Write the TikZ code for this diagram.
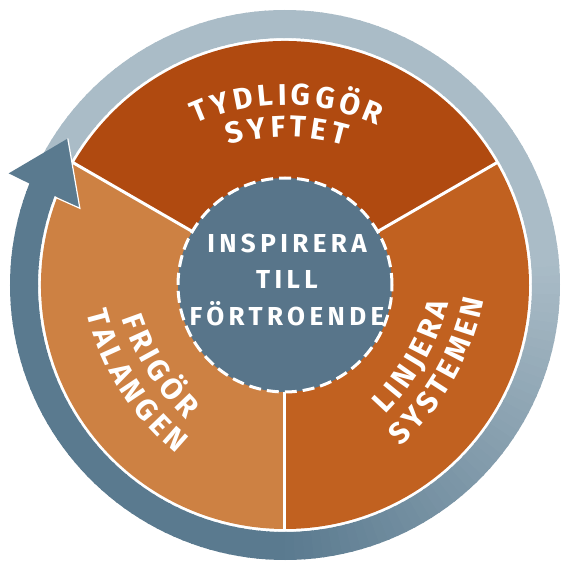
\documentclass[tikz,border=0pt]{standalone}
\usepackage{fontspec}
\newfontfamily\lblfont[LetterSpace=17]{Fira Sans}
\newfontfamily\arcfont{Fira Sans}
\usetikzlibrary{decorations.text}
\definecolor{ringdark}{RGB}{90,122,143}
\definecolor{ringlight}{RGB}{170,188,199}
\definecolor{segtop}{RGB}{176,74,16}
\definecolor{segright}{RGB}{193,97,32}
\definecolor{segleft}{RGB}{205,129,67}
\definecolor{hub}{RGB}{88,117,138}
\newcommand\lblstyle{\arcfont\bfseries\fontsize{30pt}{31pt}\selectfont\kern4pt}
\newcommand\hubstyle{\lblfont\bfseries\fontsize{26pt}{28pt}\selectfont}
\begin{document}
\begin{tikzpicture}[x=1pt,y=1pt,
  curvedlabel/.style={decorate, decoration={text along path, text align=center, text color=white, text={|\lblstyle|#1}}},
  hubline/.style={anchor=base, text=white, font=\hubstyle, inner sep=0pt},
  divider/.style={white, line width=3pt}
]
\useasboundingbox (-285,-277) rectangle (275,285);
% ring with angular gradient
\foreach \a in {0,2,...,358}{
  \pgfmathsetmacro\m{\a+1}
  \pgfmathsetmacro\p{(\m>=158)*(\m<=270)*100 + (\m>270)*(100-(\m-270)/95*100) + (\m<5)*(100-(\m+90)/95*100)}
  \fill[ringdark!\p!ringlight] (\a:247pt) arc[start angle=\a, end angle=\a+2.4, radius=247pt]
     -- (\a+2.4:275pt) arc[start angle=\a+2.4, end angle=\a, radius=275pt] -- cycle;
}
% sectors
\fill[segtop] (0,0) -- (30:244pt) arc[start angle=30,end angle=150,radius=244pt] -- cycle;
\fill[segleft] (0,0) -- (150:244pt) arc[start angle=150,end angle=270,radius=244pt] -- cycle;
\fill[segright] (0,0) -- (270:244pt) arc[start angle=270,end angle=390,radius=244pt] -- cycle;
\foreach \d in {30,150,270} \draw[divider] (\d:100pt) -- (\d:245pt);
% arrowhead
\coordinate (tip) at (146:262pt);
\coordinate (barbout) at (158:298pt);
\coordinate (barbin) at (159.5:219pt);
\coordinate (notchin) at (159.1:246pt);
\fill[ringdark] (tip) -- (barbout) -- (barbin) -- cycle;
\draw[white, line width=1.2pt] (tip) -- (barbin) -- (notchin);
% hub
\node[circle, fill=hub, minimum size=214pt, inner sep=0pt, draw=white, line width=3pt, dash pattern=on 12pt off 6pt] (hubc) at (0,0) {};
\node[hubline] (h1) at (2,32) {INSPIRERA};
\node[hubline] (h2) at (2,-3) {TILL};
\node[hubline] (h3) at (2,-40) {FÖRTROENDE};
% curved labels
\path[curvedlabel={TYDLIGGÖR}, shift={(90:-40pt)}] (135:220pt) arc[start angle=135, end angle=45, radius=220pt];
\path[curvedlabel={SYFTET}, shift={(90:-52pt)}] (135:200pt) arc[start angle=135, end angle=45, radius=200pt];
\path[curvedlabel={LINJERA}, shift={(-30:-90pt)}] (-70:250pt) arc[start angle=-70, end angle=10, radius=250pt];
\path[curvedlabel={SYSTEMEN}, shift={(-30:-66pt)}] (-70:260pt) arc[start angle=-70, end angle=10, radius=260pt];
\path[curvedlabel={FRIGÖR}, shift={(212:-87pt)}] (172:250pt) arc[start angle=172, end angle=252, radius=250pt];
\path[curvedlabel={TALANGEN}, shift={(212:-64pt)}] (172:260pt) arc[start angle=172, end angle=252, radius=260pt];
\end{tikzpicture}
\end{document}
